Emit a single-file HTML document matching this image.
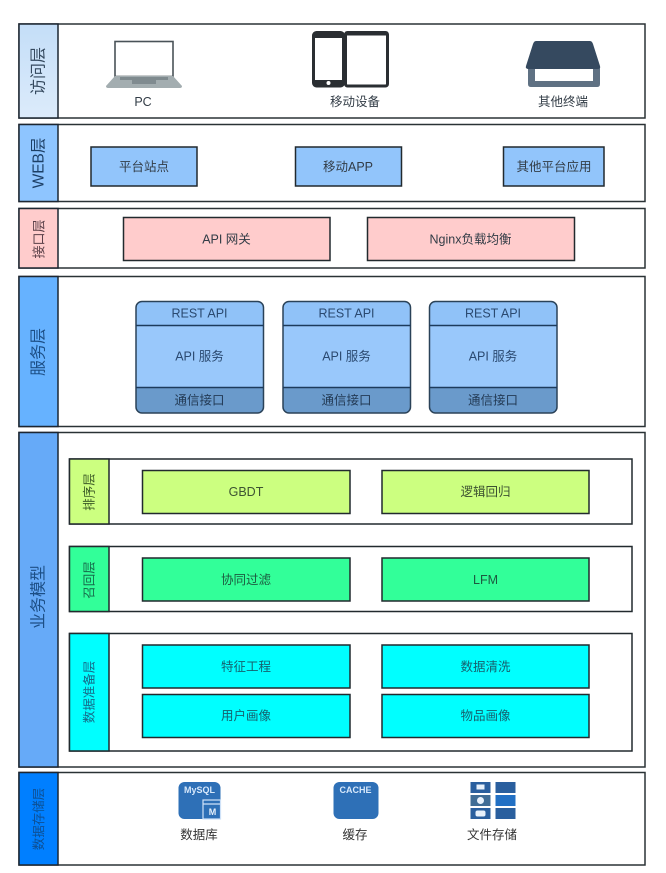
<!DOCTYPE html>
<html><head><meta charset="utf-8">
<style>
html,body{margin:0;padding:0;background:#fff;width:666px;height:873px;overflow:hidden}
svg{display:block}
text{font-family:"Liberation Sans","Noto Sans CJK SC",sans-serif;font-size:12.5px;text-anchor:middle;dominant-baseline:central;fill:#333c46}
.b{stroke:#20292e;stroke-width:1.5}
</style></head><body>
<svg width="666" height="873" viewBox="0 0 666 873" xmlns="http://www.w3.org/2000/svg">
<defs>
<filter id="s" x="-5%" y="-5%" width="110%" height="110%"><feGaussianBlur stdDeviation="0.25"/></filter>
<linearGradient id="g1" x1="0" y1="0" x2="0" y2="1"><stop offset="0" stop-color="#c4def8"/><stop offset="1" stop-color="#dcebfb"/></linearGradient>
</defs>
<g filter="url(#s)">
<!-- rows -->
<g fill="#fff" stroke="#2c3236" stroke-width="1.5">
<rect x="19" y="24" width="626" height="94"/>
<rect x="19" y="124.500" width="626" height="77"/>
<rect x="19" y="208.500" width="626" height="59.500"/>
<rect x="19" y="276.500" width="626" height="150"/>
<rect x="19" y="432.500" width="626" height="334.500"/>
<rect x="19" y="772.500" width="626" height="92.500"/>
</g>
<g stroke="#1c2630" stroke-width="1.5">
<rect x="19" y="24" width="39" height="94" fill="url(#g1)"/>
<rect x="19" y="124.500" width="39" height="77" fill="#8ec5ff"/>
<rect x="19" y="208.500" width="39" height="59.500" fill="#ffcccc"/>
<rect x="19" y="276.500" width="39" height="150" fill="#66b2ff"/>
<rect x="19" y="432.500" width="39" height="334.500" fill="#66aaf8"/>
<rect x="19" y="772.500" width="39" height="92.500" fill="#007fff"/>
</g>
<text transform="translate(39,71) rotate(-90)" style="font-size:16px;fill:#34495e">访问层</text>
<text transform="translate(39,163) rotate(-90)" style="font-size:15.500px;fill:#1f3f66">WEB层</text>
<text transform="translate(39,239) rotate(-90)" style="font-size:13px;fill:#5a4048">接口层</text>
<text transform="translate(39,352) rotate(-90)" style="font-size:16px;fill:#1f4f86">服务层</text>
<text transform="translate(39,597) rotate(-90)" style="font-size:16px;fill:#1f4f86">业务模型</text>
<text transform="translate(39,819) rotate(-90)" style="font-size:12.500px;fill:#0d4f92">数据存储层</text>

<!-- Laptop -->
<rect x="115" y="41.500" width="58" height="35" fill="#fff" stroke="#4a5258" stroke-width="1.600"/>
<path d="M115 76 h58 l9 10 q0 2 -2 2 h-72 q-2 0 -2 -2z" fill="#a3adb0"/>
<rect x="120" y="77" width="48" height="3" fill="#7f8a8e"/>
<rect x="132" y="80" width="24" height="4" fill="#808b90"/>
<text x="143" y="102">PC</text>

<!-- Phone and tablet -->
<rect x="313.500" y="32.500" width="30" height="53.500" rx="3" fill="#fff" stroke="#2c2f33" stroke-width="3"/>
<rect x="313" y="32" width="31" height="6" rx="2" fill="#2c2f33"/>
<rect x="313" y="80" width="31" height="6" rx="2" fill="#2c2f33"/>
<circle cx="328.500" cy="83" r="2" fill="#fff"/>
<rect x="345.500" y="32.500" width="42" height="53.500" rx="2" fill="#fff" stroke="#2c2f33" stroke-width="3"/>
<rect x="345" y="31.500" width="43" height="4" rx="1" fill="#2c2f33"/>
<text x="355" y="102">移动设备</text>

<!-- Other terminal -->
<path d="M528 68 v16 q0 3 3 3 h66 q3 0 3 -3 v-16 h-7 v13 h-58 v-13z" fill="#5f7183"/>
<path d="M536 41 h54 q2 0 3 3 l7 22 q1 3 -3 3 h-68 q-4 0 -3 -3 l7 -22 q1 -3 3 -3z" fill="#34495e"/>
<text x="563" y="102">其他终端</text>

<!-- Web boxes -->
<g fill="#92c5fb" class="b">
<rect x="91" y="147" width="106" height="39"/>
<rect x="295.500" y="147" width="106" height="39"/>
<rect x="503.500" y="147" width="100.500" height="39"/>
</g>
<text x="144" y="167">平台站点</text>
<text x="348" y="167">移动APP</text>
<text x="554" y="167">其他平台应用</text>

<!-- Gateway -->
<g fill="#ffcccc" class="b">
<rect x="123.500" y="217.500" width="206.500" height="43"/>
<rect x="367.500" y="217.500" width="207" height="43"/>
</g>
<text x="226.500" y="239.500">API 网关</text>
<text x="470.500" y="239.500">Nginx负载均衡</text>

<!-- API services -->
<g>
<rect x="136" y="301.500" width="127.500" height="111.500" rx="6" fill="#99c8fb"/>
<path d="M136 325.500 v-18 q0 -6 6 -6 h115.500 q6 0 6 6 v18z" fill="#90c2f8"/>
<path d="M136 387.500 h127.500 v19.500 q0 6 -6 6 h-115.500 q-6 0 -6 -6z" fill="#6a9acb"/>
<rect x="136" y="301.500" width="127.500" height="111.500" rx="6" fill="none" stroke="#2c4258" stroke-width="1.500"/>
<path d="M136 325.500 h127.500 M136 387.500 h127.500" stroke="#1f3a5c" stroke-width="1.500"/>
<text x="199.500" y="313.500" style="fill:#2b4a70">REST API</text>
<text x="199.500" y="356.500" style="fill:#2b4a70">API 服务</text>
<text x="199.500" y="400.500" style="fill:#243a55">通信接口</text>
</g>
<g>
<rect x="283" y="301.500" width="127.500" height="111.500" rx="6" fill="#99c8fb"/>
<path d="M283 325.500 v-18 q0 -6 6 -6 h115.500 q6 0 6 6 v18z" fill="#90c2f8"/>
<path d="M283 387.500 h127.500 v19.500 q0 6 -6 6 h-115.500 q-6 0 -6 -6z" fill="#6a9acb"/>
<rect x="283" y="301.500" width="127.500" height="111.500" rx="6" fill="none" stroke="#2c4258" stroke-width="1.500"/>
<path d="M283 325.500 h127.500 M283 387.500 h127.500" stroke="#1f3a5c" stroke-width="1.500"/>
<text x="346.500" y="313.500" style="fill:#2b4a70">REST API</text>
<text x="346.500" y="356.500" style="fill:#2b4a70">API 服务</text>
<text x="346.500" y="400.500" style="fill:#243a55">通信接口</text>
</g>
<g>
<rect x="429.500" y="301.500" width="127.500" height="111.500" rx="6" fill="#99c8fb"/>
<path d="M429.500 325.500 v-18 q0 -6 6 -6 h115.500 q6 0 6 6 v18z" fill="#90c2f8"/>
<path d="M429.500 387.500 h127.500 v19.500 q0 6 -6 6 h-115.500 q-6 0 -6 -6z" fill="#6a9acb"/>
<rect x="429.500" y="301.500" width="127.500" height="111.500" rx="6" fill="none" stroke="#2c4258" stroke-width="1.500"/>
<path d="M429.500 325.500 h127.500 M429.500 387.500 h127.500" stroke="#1f3a5c" stroke-width="1.500"/>
<text x="493" y="313.500" style="fill:#2b4a70">REST API</text>
<text x="493" y="356.500" style="fill:#2b4a70">API 服务</text>
<text x="493" y="400.500" style="fill:#243a55">通信接口</text>
</g>

<!-- Inner rows -->
<g fill="#fff" class="b">
<rect x="69.500" y="459" width="562.500" height="65"/>
<rect x="69.500" y="546.500" width="562.500" height="65"/>
<rect x="69.500" y="633.500" width="562.500" height="117.500"/>
</g>
<g class="b">
<rect x="69.500" y="459" width="39.500" height="65" fill="#ccff80"/>
<rect x="69.500" y="546.500" width="39.500" height="65" fill="#33ff99"/>
<rect x="69.500" y="633.500" width="39.500" height="117.500" fill="#00ffff"/>
<rect x="142.500" y="470.500" width="207.500" height="43" fill="#ccff80"/>
<rect x="382" y="470.500" width="207" height="43" fill="#ccff80"/>
<rect x="142.500" y="558" width="207.500" height="43" fill="#33ff99"/>
<rect x="382" y="558" width="207" height="43" fill="#33ff99"/>
<rect x="142.500" y="645" width="207.500" height="43" fill="#00ffff"/>
<rect x="382" y="645" width="207" height="43" fill="#00ffff"/>
<rect x="142.500" y="694.500" width="207.500" height="43" fill="#00ffff"/>
<rect x="382" y="694.500" width="207" height="43" fill="#00ffff"/>
</g>
<text transform="translate(89.500,492) rotate(-90)" style="fill:#3d5c28">排序层</text>
<text transform="translate(89.500,580) rotate(-90)" style="fill:#16694a">召回层</text>
<text transform="translate(89.500,692) rotate(-90)" style="fill:#176a88">数据准备层</text>
<text x="246" y="492" style="fill:#3d5230">GBDT</text>
<text x="485.500" y="492" style="fill:#3d5230">逻辑回归</text>
<text x="246" y="580" style="fill:#1d5a40">协同过滤</text>
<text x="485.500" y="580" style="fill:#1d5a40">LFM</text>
<text x="246" y="667" style="fill:#17606e">特征工程</text>
<text x="485.500" y="667" style="fill:#17606e">数据清洗</text>
<text x="246" y="716" style="fill:#17606e">用户画像</text>
<text x="485.500" y="716" style="fill:#17606e">物品画像</text>

<!-- MySQL icon -->
<rect x="178.500" y="782" width="42" height="37" rx="6" fill="#2e6fb7"/>
<text x="184" y="790" style="font-size:9px;font-weight:bold;fill:#d8e9fb;text-anchor:start">MySQL</text>
<rect x="203" y="800" width="17.500" height="19" fill="#2e6fb7" stroke="#cfe2f8" stroke-width="1.200"/>
<path d="M203 804 h17.500" stroke="#cfe2f8" stroke-width="1.200"/>
<text x="212.500" y="812" style="font-size:9px;font-weight:bold;fill:#e6f0fb">M</text>
<text x="199" y="835" style="fill:#333">数据库</text>

<!-- Cache icon -->
<rect x="333.500" y="782" width="45" height="37" rx="6" fill="#2e6fb7"/>
<text x="355.500" y="790" style="font-size:9px;font-weight:bold;fill:#d8e9fb">CACHE</text>
<text x="355" y="835" style="fill:#333">缓存</text>

<!-- File storage icon -->
<g fill="#2a5f9e">
<rect x="470.500" y="782" width="20" height="11"/>
<rect x="495.500" y="782" width="20" height="11"/>
<rect x="470.500" y="795" width="20" height="11" fill="#3f6d96"/>
<rect x="495.500" y="795" width="20" height="11" fill="#2270c4"/>
<rect x="470.500" y="808" width="20" height="11"/>
<rect x="495.500" y="808" width="20" height="11"/>
</g>
<g fill="#e8f1fb">
<rect x="476.500" y="784.500" width="8" height="5"/>
<circle cx="480.500" cy="800.500" r="3.500"/>
<rect x="475.500" y="810.500" width="10" height="6" rx="2"/>
</g>
<text x="492" y="835" style="fill:#333">文件存储</text>
</g>
</svg>
</body></html>
